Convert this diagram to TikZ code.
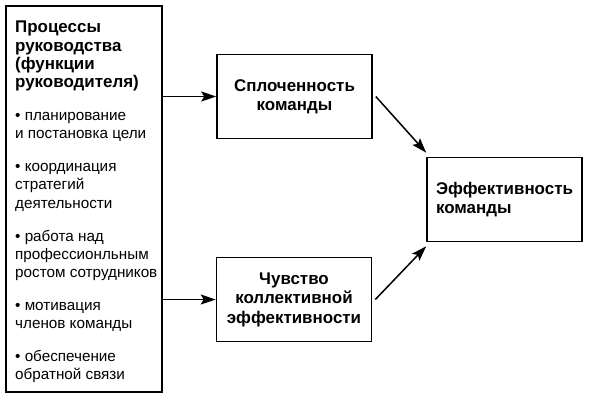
\documentclass[tikz,border=0pt]{standalone}
\usepackage{fontspec}
\setmainfont{Liberation Sans}
\usetikzlibrary{arrows.meta,positioning,calc}

\tikzset{
  block/.style={draw, line width=1.6bp, minimum width=155bp, minimum height=84bp,
    align=center, font=\bfseries\fontsize{17}{19.5}\selectfont},
  link/.style={-{Stealth[length=15bp,width=10bp,inset=3bp]}, line width=1.5bp},
}

\begin{document}
\begin{tikzpicture}[x=1bp,y=-1bp]
    \useasboundingbox (0,0) rectangle (592,410);
    % Left column: functions of the leader
    \node[draw, line width=1.6bp, minimum width=156bp, minimum height=386bp, inner sep=0pt] (funcs) at (84,199) {};
    \node[anchor=north west, align=left, inner sep=0pt, font=\fontsize{15.3}{18.3}\selectfont] (funcstext) at (15,21) {\textbf{\fontsize{17}{18.3}\selectfont Процессы}\\ \textbf{\fontsize{17}{18.3}\selectfont руководства}\\ \textbf{\fontsize{17}{18.3}\selectfont (функции}\\ \textbf{\fontsize{17}{18.3}\selectfont руководителя)}\\[14.7bp]
       • планирование\\ и постановка цели\\[14.7bp]
       • координация\\ стратегий\\ деятельности\\[14.7bp]
       • работа над\\ профессионльным\\ ростом сотрудников\\[14.7bp]
       • мотивация\\ членов команды\\[14.7bp]
       • обеспечение\\ обратной связи};
    % Middle boxes
    \node[block] (team) at (294.5,96.5) {Сплоченность\\ команды};
    \node[block] (belief) at (294,299.5) {Чувство\\ коллективной\\ эффективности};
    % Result
    \node[block, align=left] (eff) at (504.5,199.5) {Эффективность\\ команды};
    % Arrows
    \draw[link] (funcs.east |- team.center) -- (team.west);
    \draw[link] (funcs.east |- belief.center) -- (belief.west);
    \draw[link] ([xshift=3bp]team.east) -- ([yshift=4bp]eff.north west);
    \draw[link] ([xshift=3bp]belief.east) -- ([yshift=-4bp]eff.south west);
\end{tikzpicture}
\end{document}
